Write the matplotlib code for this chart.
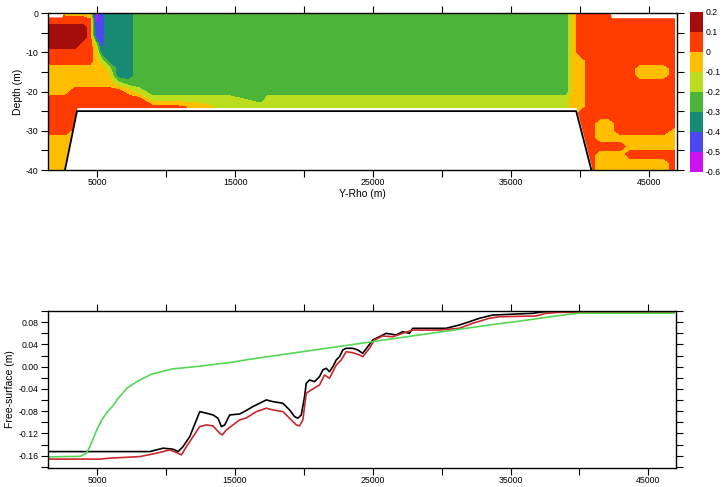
import numpy as np
import matplotlib.pyplot as plt
from matplotlib.ticker import MultipleLocator

plt.rcParams['font.family'] = ['Liberation Sans', 'DejaVu Sans']
plt.rcParams['axes.unicode_minus'] = False

# section: y-rho positions (m) of each column and depth levels (m)
y_rho = [1450, 2000, 2700, 3400, 4000, 4500, 4900, 5300, 5800, 6500, 7300,
         8000, 9000, 10500, 12500, 14500, 16900, 17400, 25000, 33000, 38500,
         39000, 39500, 40000, 40700, 41400, 42100, 42900, 43600, 44300,
         45200, 46000, 46850]
depth = [0, -2, -4, -6, -8, -10, -12, -14, -16, -18, -20, -22, -24, -26,
         -28, -30, -32, -34, -36, -38, -40]

# band read in each cell, one string per column, top to bottom
band_value = {'A': 0.15, 'R': 0.05, 'Y': -0.05, 'L': -0.15,
              'G': -0.25, 'T': -0.35, 'B': -0.45, 'M': -0.55}
columns = [
    "RRAAARRYYYYRRRRRYYYYY",
    "RRAAARRYYYYRRRRRYYYYY",
    "YRAAARRYYYYRRRRRYYYYY",
    "YRAAARRYYYRRRRRYYYYYY",
    "YRAARRRYYYRRRRRRRRRRR",
    "LRRRRRRYYYRRRRRRRRRRR",
    "MMBBLYYYYYRRRRRRRRRRR",
    "BBBBBTLYYYRRRRRRRRRRR",
    "TTTTTTTLYYRRRRRRRRRRR",
    "TTTTTTTTTLRRRRRRRRRRR",
    "TTTTTTTTTGYRRRRRRRRRR",
    "GGGGGGGGGGLRRRRRRRRRR",
    "GGGGGGGGGGGLRRRRRRRRR",
    "GGGGGGGGGGGLRRRRRRRRR",
    "GGGGGGGGGGGLYYYYYYYYY",
    "GGGGGGGGGGGLLLLLLLLLL",
    "GGGGGGGGGGGGLLLLLLLLL",
    "GGGGGGGGGGGLLLLLLLLLL",
    "GGGGGGGGGGGLLLLLLLLLL",
    "GGGGGGGGGGGLLLLLLLLLL",
    "GGGGGGGGGGGLLLLLLLLLL",
    "GGGGGGGGGGGLLLLLLLLLL",
    "YYYYYYYYYYYYYYYYYYYYY",
    "RRRRRRYYYYYYYRRRRRRRR",
    "RRRRRRRRRRRRRRRRRRRRR",
    "RRRRRRRRRRRRRRYYYRYYY",
    "RRRRRRRRRRRRRRYYYRYYY",
    "RRRRRRRRRRRRRRRRYRYYY",
    "RRRRRRRRRRRRRRRRYYRYY",
    "RRRRRRRYYRRRRRRRYYRYY",
    "RRRRRRRYYRRRRRRRYYRYY",
    "RRRRRRRYYRRRRRRRYYRYY",
    "RRRRRRRRRRRRRRRYYYRRR",
]
levels = [-0.6, -0.5, -0.4, -0.3, -0.2, -0.1, 0.0, 0.1, 0.2]
level_labels = ['-0.6', '-0.5', '-0.4', '-0.3', '-0.2', '-0.1', '0', '0.1', '0.2']
band_colors = ['#cc11f5', '#4a48ee', '#168a72', '#4db43a',
               '#bade1e', '#ffbf00', '#ff3c00', '#a50d0d']

# shelf bottom and sea surface
shelf_x = [2680, 3550, 39700, 40800]
shelf_z = [-40, -25, -25, -40]
surface_x = [1450, 2450, 2550, 42150, 42250, 47000]
surface_z = [-1.0, -1.0, 0.0, 0.0, -1.2, -1.2]

# free surface along the section
fs_black_x = [1452, 8837, 9800, 10524, 10886, 11248, 11733, 12218, 12457, 12942,
              13420, 13782, 14028, 14267, 14629, 15353, 15838, 16316, 16801, 17286,
              17764, 18488, 18973, 19335, 19574, 19820, 20059, 20182, 20421, 20783,
              21145, 21384, 21630, 21869, 22109, 22355, 22593, 22832, 23078, 23556,
              23918, 24280, 24642, 25004, 25489, 25974, 26698, 27176, 27661, 27900,
              30318, 31281, 32005, 32729, 33692, 36588, 37435, 46847]
fs_black = [-0.1525, -0.1525, -0.1464, -0.1482, -0.1525, -0.1435, -0.1256, -0.0956,
            -0.0807, -0.0836, -0.0867, -0.0926, -0.1076, -0.1046, -0.0867, -0.0850,
            -0.0786, -0.0716, -0.0657, -0.0597, -0.0628, -0.0657, -0.0777, -0.0897,
            -0.0926, -0.0867, -0.0538, -0.0298, -0.0239, -0.0269, -0.0179, -0.0059,
            -0.0029, -0.0090, 0.0000, 0.0120, 0.0179, 0.0300, 0.0330, 0.0330,
            0.0300, 0.0240, 0.0359, 0.0479, 0.0538, 0.0599, 0.0569, 0.0628,
            0.0599, 0.0689, 0.0689, 0.0748, 0.0807, 0.0868, 0.0927, 0.0958,
            0.0987, 0.0987]
fs_red_x = [1452, 5217, 5941, 8113, 9322, 10285, 10770, 11132, 11494, 11972,
            12457, 12942, 13420, 13905, 14100, 14390, 14868, 15353, 15838, 16562,
            17286, 17764, 18488, 18973, 19458, 19698, 19937, 20182, 20544, 21145,
            21507, 21869, 22355, 22717, 23078, 23556, 24041, 24280, 24765, 25127,
            25728, 26452, 27176, 27900, 29833, 31281, 32245, 33453, 34177, 36834,
            37558, 38521, 46847]
fs_red = [-0.166, -0.166, -0.1643, -0.1615, -0.1554, -0.1494, -0.1543, -0.1584,
          -0.1435, -0.1256, -0.1076, -0.1046, -0.1064, -0.1195, -0.1225, -0.1136,
          -0.1046, -0.0956, -0.0920, -0.0807, -0.0746, -0.0777, -0.0807, -0.0926,
          -0.1046, -0.1064, -0.0956, -0.0477, -0.0418, -0.0328, -0.0149, -0.0208,
          0.0030, 0.0120, 0.0269, 0.0251, 0.0210, 0.0179, 0.0330, 0.0479,
          0.0551, 0.0538, 0.0599, 0.0658, 0.0658, 0.0689, 0.0779, 0.0868,
          0.0897, 0.0910, 0.0958, 0.0976, 0.0976]
fs_green_x = [1452, 3800, 4250, 4500, 4750, 5000, 5350, 5700, 6200, 6500, 7200,
              8100, 9000, 10500, 12500, 14800, 16000, 25000, 33500, 35100, 39200,
              40000, 46847]
fs_green = [-0.162, -0.161, -0.155, -0.143, -0.128, -0.113, -0.096, -0.083,
            -0.069, -0.058, -0.038, -0.024, -0.013, -0.004, 0.001, 0.008, 0.013,
            0.045, 0.075, 0.080, 0.094, 0.096, 0.096]

field = np.array([[band_value[c] for c in col] for col in columns]).T

fig = plt.figure(figsize=(7.25, 4.87), dpi=100)
ax1 = fig.add_axes([0.0662, 0.6509, 0.8676, 0.3224])
ax2 = fig.add_axes([0.0662, 0.0390, 0.8662, 0.3224])
cax = fig.add_axes([0.9517, 0.6470, 0.0180, 0.3285])

cf = ax1.contourf(y_rho, depth, field, levels=levels, colors=band_colors)
ax1.fill_between(surface_x, surface_z, 1, color='white', lw=0)
ax1.fill_between(shelf_x, np.array(shelf_z) + 0.9, -41, color='white', lw=0)
ax1.plot(shelf_x, shelf_z, color='black', lw=1.3)
ax1.set_xlim(1450, 47000)
ax1.set_ylim(-40, 0)
ax1.set_xlabel('Y-Rho (m)', fontsize=7.5, labelpad=1)
ax1.set_ylabel('Depth (m)', fontsize=7.5, labelpad=2)
ax1.set_xticks([5000, 15000, 25000, 35000, 45000])
ax1.set_xticks([10000, 20000, 30000, 40000], minor=True)
ax1.set_yticks([0, -10, -20, -30, -40])
ax1.set_yticks([-5, -15, -25, -35], minor=True)
ax1.tick_params(which='both', direction='out', length=5, width=0.8,
                top=True, right=True, labelsize=6.3, pad=2)
ax1.tick_params(axis='x', pad=1)

cb = fig.colorbar(cf, cax=cax, ticks=levels)
cb.outline.set_linewidth(0)
cb.set_ticklabels(level_labels)
cax.tick_params(length=0, labelsize=6.3, pad=2)

ax2.plot(fs_black_x, fs_black, color='black', lw=1.2)
ax2.plot(fs_red_x, fs_red, color='#c8282d', lw=1.2)
ax2.plot(fs_green_x, fs_green, color='#55d655', lw=1.2)
ax2.set_xlim(1450, 47000)
ax2.set_ylim(-0.182, 0.10)
ax2.set_ylabel('Free-surface (m)', fontsize=7.5, labelpad=2)
ax2.set_xticks([5000, 15000, 25000, 35000, 45000])
ax2.set_xticks([10000, 20000, 30000, 40000], minor=True)
ax2.set_yticks([-0.16, -0.12, -0.08, -0.04, 0.0, 0.04, 0.08])
ax2.set_yticklabels(['-0.16', '-0.12', '-0.08', '-0.04', '0.00', '0.04', '0.08'])
ax2.yaxis.set_minor_locator(MultipleLocator(0.02))
ax2.tick_params(which='both', direction='out', length=5, width=0.8,
                top=True, right=True, labelsize=6.3, pad=2)
ax2.tick_params(axis='x', pad=1)

for ax in (ax1, ax2):
    for s in ax.spines.values():
        s.set_linewidth(1.0)

plt.savefig('out.png', dpi=100)
